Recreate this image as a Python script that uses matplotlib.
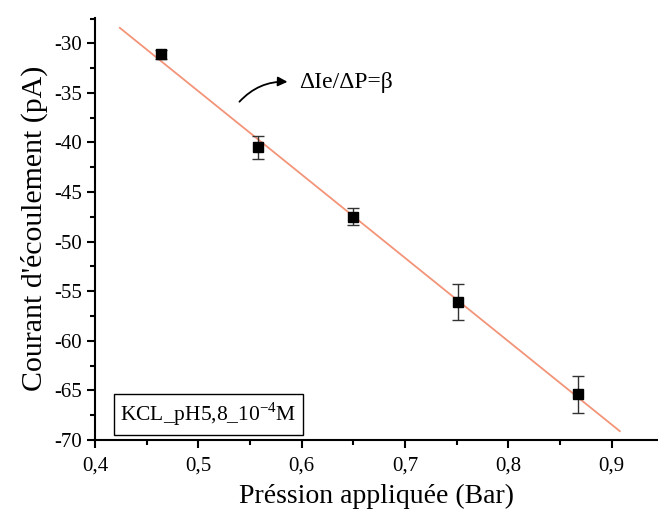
import numpy as np
import matplotlib
matplotlib.use("Agg")
import matplotlib.pyplot as plt
from matplotlib.ticker import MultipleLocator, FuncFormatter

# data
pression = [0.464, 0.558, 0.650, 0.751, 0.868]
courant = [-31.1, -40.5, -47.5, -56.1, -65.4]
erreur = [0.45, 1.15, 0.85, 1.8, 1.9]
fit_range = [0.424, 0.908]

plt.rcParams["font.family"] = ["Liberation Serif", "DejaVu Serif"]
plt.rcParams["mathtext.fontset"] = "custom"
plt.rcParams["mathtext.rm"] = "Liberation Serif"

fig = plt.figure(figsize=(6.58, 5.09), dpi=100)
ax = fig.add_axes([0.1444, 0.1356, 0.8556, 0.83])

# linear fit (slope = beta)
slope, intercept = np.polyfit(pression, courant, 1)
xf = np.array(fit_range)
ax.plot(xf, slope * xf + intercept, color="#F39478", lw=1.3, zorder=1)

ax.errorbar(pression, courant, yerr=erreur, fmt="s", color="black",
            ms=6.5, ecolor="#333333", elinewidth=1.0, capsize=4,
            capthick=1.0, zorder=3)

ax.set_xlim(0.4, 0.945)
ax.set_ylim(-70, -27.4)

ax.xaxis.set_major_locator(MultipleLocator(0.1))
ax.xaxis.set_minor_locator(MultipleLocator(0.05))
ax.yaxis.set_major_locator(MultipleLocator(5))
ax.yaxis.set_minor_locator(MultipleLocator(2.5))
ax.xaxis.set_major_formatter(FuncFormatter(lambda v, p: f"{v:.1f}".replace(".", ",")))
ax.yaxis.set_major_formatter(FuncFormatter(lambda v, p: f"{v:.0f}"))

for s in ["top", "right"]:
    ax.spines[s].set_visible(False)
for s in ["left", "bottom"]:
    ax.spines[s].set_linewidth(1.5)

ax.tick_params(which="major", direction="out", length=6, width=1.5, labelsize=15)
ax.tick_params(which="minor", direction="out", length=3.5, width=1.5)
ax.tick_params(axis="x", pad=6)

ax.set_xlabel("Préssion appliquée (Bar)", fontsize=20, labelpad=6)
ax.set_ylabel("Courant d'écoulement (pA)", fontsize=21.5, labelpad=4)

# slope annotation
ax.annotate("", xy=(0.589, -33.9), xytext=(0.538, -36.1),
            arrowprops=dict(arrowstyle="-|>", color="black", lw=1.3,
                            connectionstyle="arc3,rad=-0.25",
                            mutation_scale=14))
ax.text(0.598, -34.0, "ΔIe/ΔP=β", fontsize=17, va="center", ha="left")

ax.text(0.045, 0.028, "KCL_pH5,8_10$^{\\mathrm{-4}}$M", transform=ax.transAxes,
        fontsize=15.5, ha="left", va="bottom",
        bbox=dict(boxstyle="square,pad=0.3", facecolor="white",
                  edgecolor="black", lw=1.0))

fig.savefig("out.png", dpi=100)
